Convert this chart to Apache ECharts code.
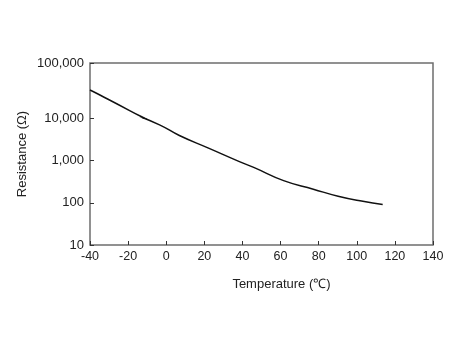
<!DOCTYPE html>
<html>
<head>
<meta charset="utf-8">
<script src="https://cdn.jsdelivr.net/npm/echarts@6/dist/echarts.min.js"></script>
<style>
  html, body { margin: 0; padding: 0; background: #fff; }
  #chart { width: 453px; height: 341px; }
</style>
</head>
<body>
<div id="chart"></div>
<script>
// Thermistor resistance vs temperature
const temperatures = [-40, -34.8, -19.2, -3.5, 6.9, 22.5, 38.1, 45.9, 61.6, 77.2, 90.2, 103.2, 113.6];
const resistances = [32500, 26400, 13800, 7010, 3910, 1940, 955, 688, 335, 210, 143, 108, 91];

const xAxisName = 'Temperature (℃)';
const yAxisName = 'Resistance (Ω)';

const points = temperatures.map((t, i) => [t, resistances[i]]);

const chart = echarts.init(document.getElementById('chart'), null, { renderer: 'canvas' });
const fontFamily = 'Liberation Sans, Arial, Helvetica, sans-serif';
const axisGray = '#6e6e6e';
const textColor = '#222';

// Plot frame: the resistance axis uses a taller band for the top decade
// (10,000 - 100,000) than for the three decades below it.
const frame = { left: 90, right: 20, top: 63, bottom: 96 };
const splitY = 118.3; // pixel row of the 10,000 line

const hiddenX = (gridIndex) => ({
  type: 'value', gridIndex, min: -40, max: 140, interval: 20, show: false
});

const fmt = v => Math.round(v).toLocaleString('en-US');

chart.setOption({
  animation: false,
  backgroundColor: '#fff',
  grid: [
    // full frame: border box, temperature axis and axis titles
    { left: frame.left, right: frame.right, top: frame.top, bottom: frame.bottom,
      show: true, borderColor: axisGray, borderWidth: 1.5, backgroundColor: 'transparent' },
    // upper decade band
    { left: frame.left, right: frame.right, top: frame.top, height: splitY - frame.top },
    // lower three decades
    { left: frame.left, right: frame.right, top: splitY, bottom: frame.bottom }
  ],
  xAxis: [
    {
      type: 'value', gridIndex: 0,
      min: -40, max: 140, interval: 20,
      name: xAxisName,
      nameLocation: 'middle',
      nameGap: 33,
      nameTextStyle: { fontFamily, fontSize: 13, color: textColor, padding: [0, 0, 0, 40] },
      axisLine: { show: false, onZero: false },
      axisTick: { show: true, inside: true, length: 4, lineStyle: { color: '#333' } },
      axisLabel: { fontFamily, fontSize: 12.5, color: textColor, margin: 5 },
      splitLine: { show: false }
    },
    hiddenX(1),
    hiddenX(2)
  ],
  yAxis: [
    {
      type: 'log', gridIndex: 0, min: 10, max: 100000,
      name: yAxisName,
      nameLocation: 'middle',
      nameRotate: 90,
      nameGap: 61,
      nameTextStyle: { fontFamily, fontSize: 13, color: textColor },
      axisLine: { show: false, onZero: false },
      axisTick: { show: false },
      axisLabel: { show: false },
      splitLine: { show: false }
    },
    {
      type: 'log', gridIndex: 1, min: 10000, max: 100000,
      axisLine: { show: false, onZero: false },
      axisTick: { show: true, inside: true, length: 4, lineStyle: { color: '#333' } },
      axisLabel: { fontFamily, fontSize: 13, color: textColor, margin: 6, formatter: fmt },
      splitLine: { show: false }
    },
    {
      type: 'log', gridIndex: 2, min: 10, max: 10000,
      axisLine: { show: false, onZero: false },
      axisTick: { show: true, inside: true, length: 4, lineStyle: { color: '#333' } },
      axisLabel: { fontFamily, fontSize: 13, color: textColor, margin: 6, formatter: fmt, showMaxLabel: false },
      splitLine: { show: false }
    }
  ],
  series: [1, 2].map(i => ({
    type: 'line',
    xAxisIndex: i,
    yAxisIndex: i,
    data: points,
    smooth: true,
    clip: true,
    showSymbol: false,
    lineStyle: { color: '#111', width: 1.5 }
  }))
});
</script>
</body>
</html>
